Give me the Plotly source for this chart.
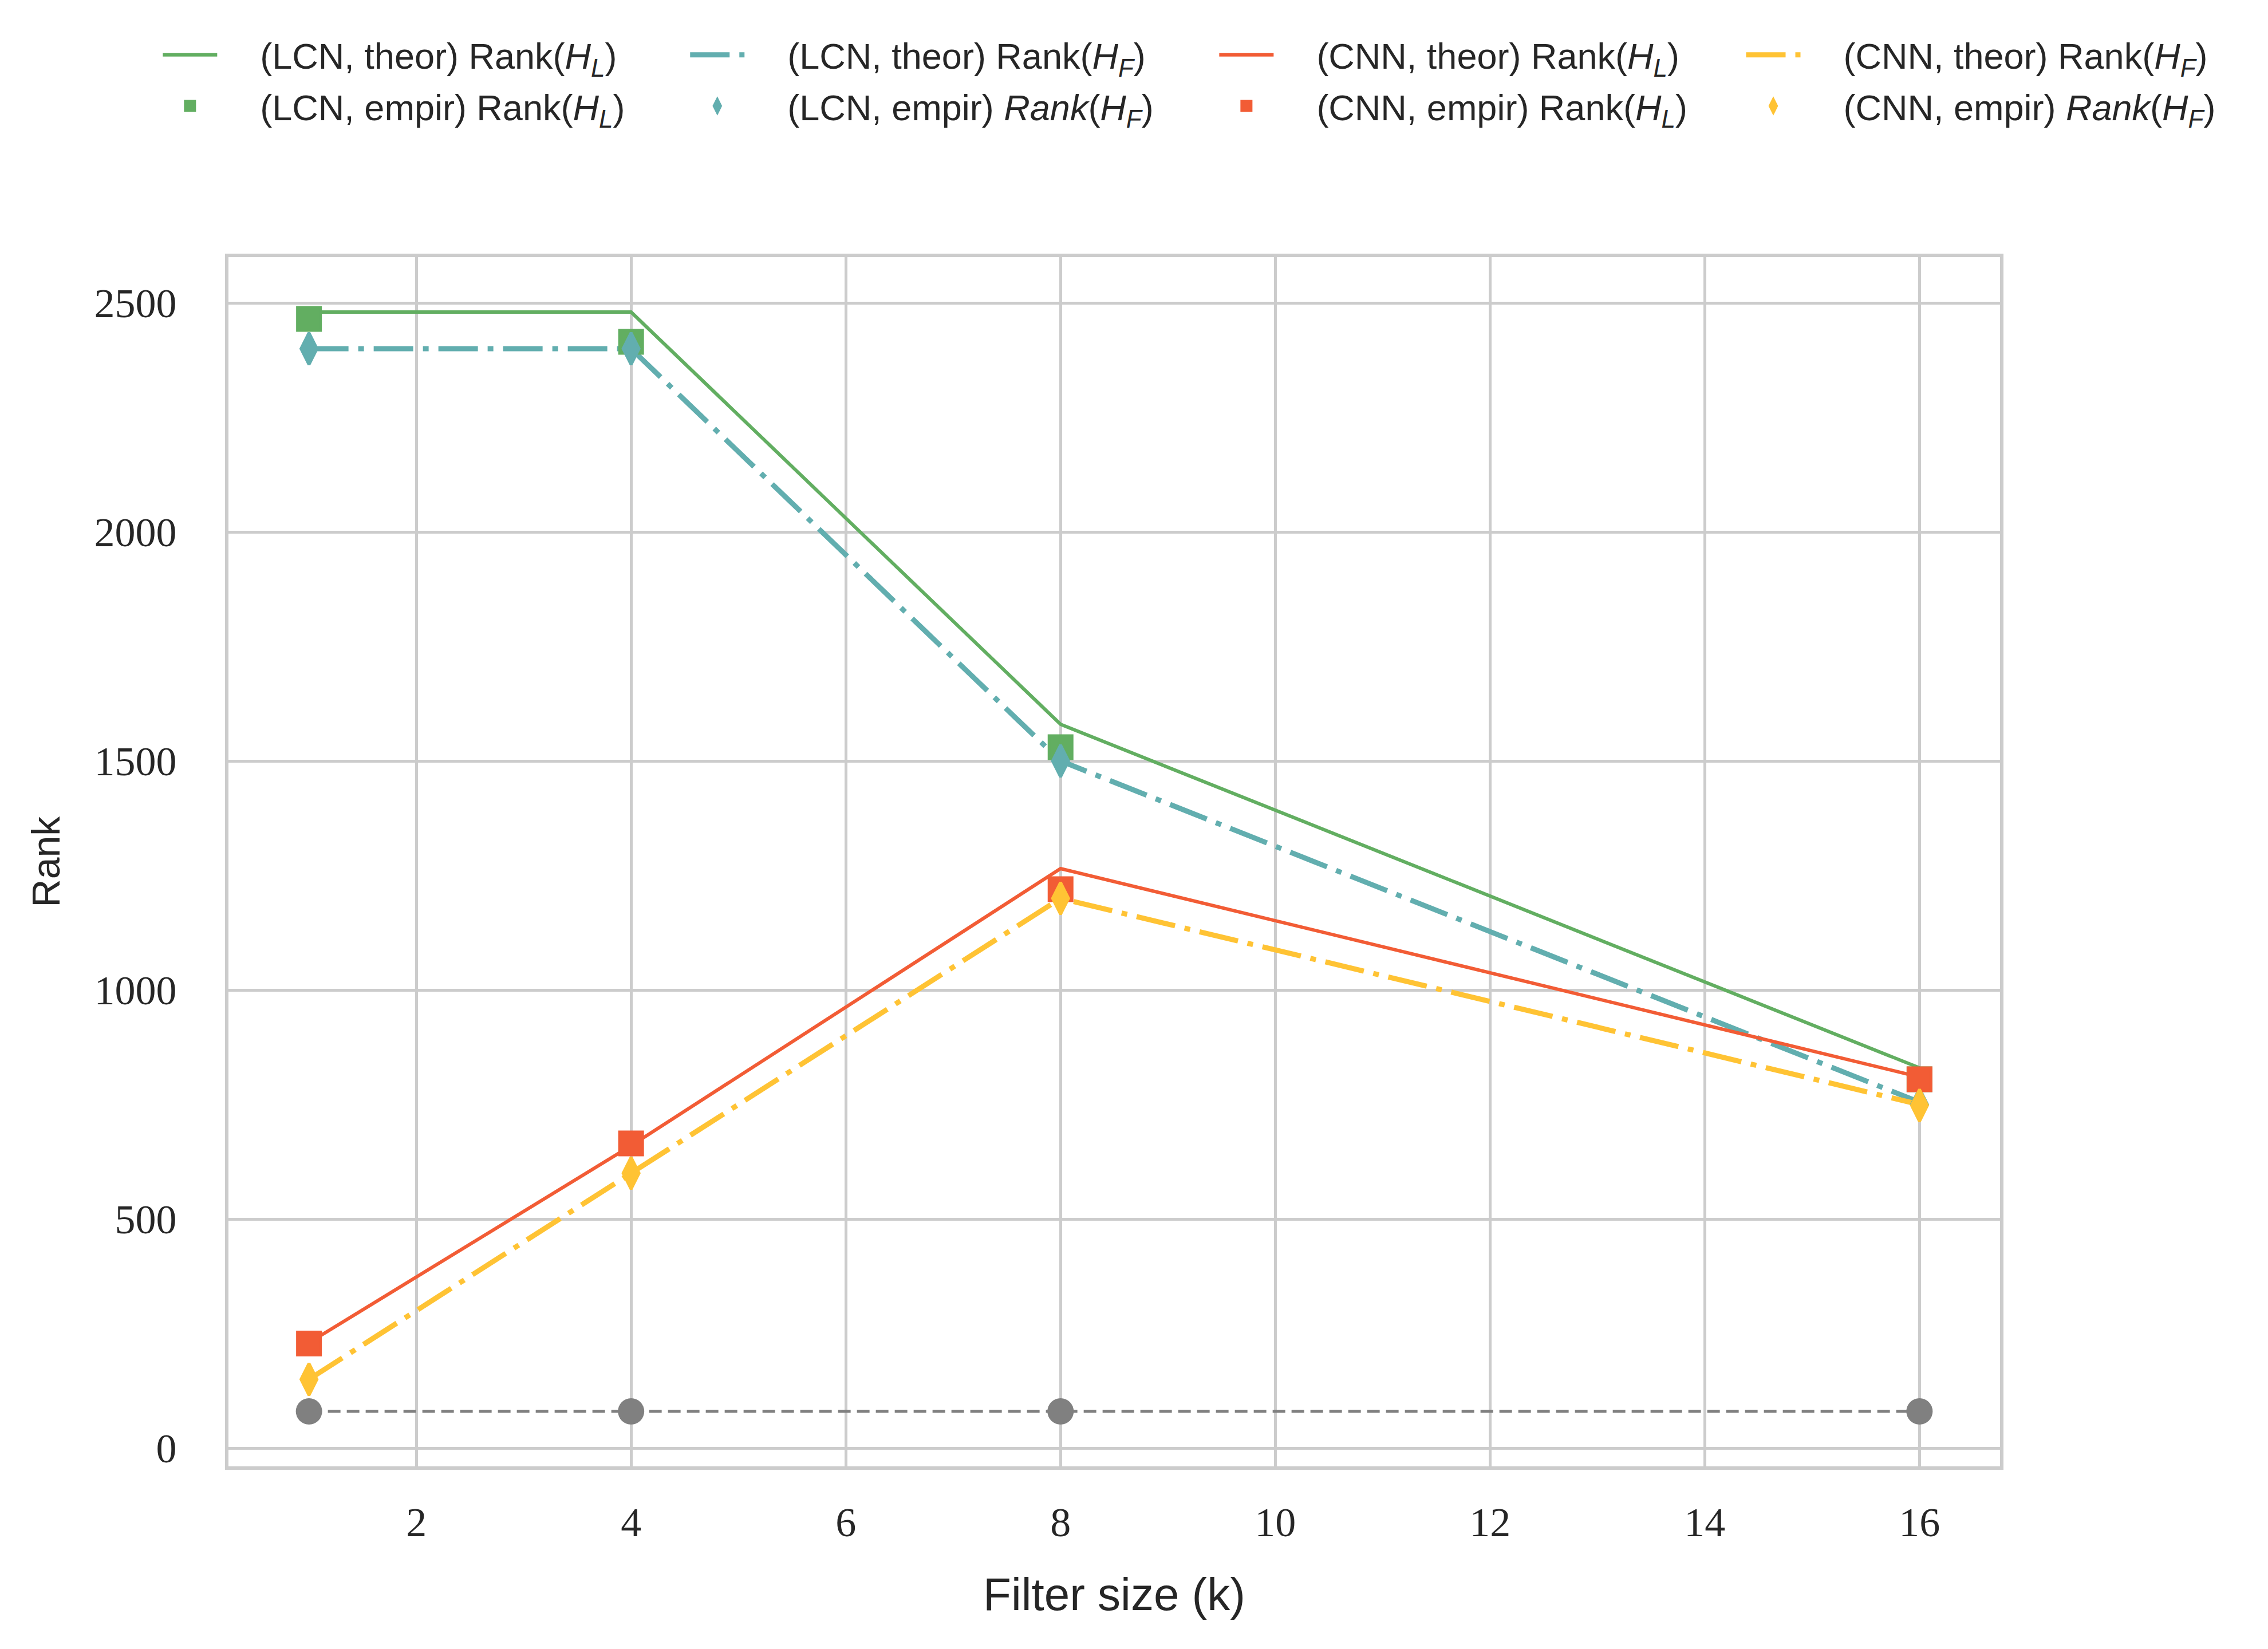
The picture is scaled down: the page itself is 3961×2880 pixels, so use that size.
import plotly.graph_objects as go

# --- data ---
FILTER_SIZES = [1, 4, 8, 16]

LCN_THEOR_HL = [2480, 2480, 1580, 830]
LCN_THEOR_HF = [2400, 2400, 1500, 755]
CNN_THEOR_HL = [230, 660, 1265, 810]
CNN_THEOR_HF = [150, 600, 1200, 750]

LCN_EMPIR_HL = [2465, 2415, 1530, 805]
LCN_EMPIR_HF = [2400, 2400, 1500, 750]
CNN_EMPIR_HL = [228, 665, 1220, 805]
CNN_EMPIR_HF = [150, 600, 1200, 748]

BASELINE = [80, 80, 80, 80]

X_TICKS = [2, 4, 6, 8, 10, 12, 14, 16]
Y_TICKS = [0, 500, 1000, 1500, 2000, 2500]

# palette
GREEN = "#62ae61"
TEAL = "#62aeaf"
RED = "#f25c35"
YELLOW = "#ffc334"
GREY = "#808080"

SERIF = "Liberation Serif, DejaVu Serif, serif"
SANS = "Liberation Sans, DejaVu Sans, sans-serif"
TXT = "#262626"

DASHDOT = "69px,17px,10px,17px"
PAD = "&nbsp;" * 4  # extra gap between legend symbol and text

# legend grid: 4 columns x 2 rows, one single-entry legend per cell
LEGEND_COLS = [0.0685, 0.301, 0.5343, 0.7666]
LEGEND_ROWS = [0.9695, 0.9385]


def hl(prefix, italic_rank=False):
    rank = "<i>Rank</i>" if italic_rank else "Rank"
    return f"{PAD}{prefix} {rank}(<i>H</i><sub><i>L</i></sub>)"


def hf(prefix, italic_rank=False):
    rank = "<i>Rank</i>" if italic_rank else "Rank"
    return f"{PAD}{prefix} {rank}(<i>H</i><sub><i>F</i></sub>)"


def marker(symbol, color, size=40):
    # outline in the same colour so the (size-capped) legend symbols get a bit bigger
    return dict(symbol=symbol, size=size, color=color, line=dict(color=color, width=5))


fig = go.Figure()

# grey baseline (not in legend)
fig.add_trace(go.Scatter(
    x=FILTER_SIZES, y=BASELINE, mode="lines+markers", showlegend=False,
    line=dict(color=GREY, width=5, dash="22px,11px"),
    marker=dict(symbol="circle", size=46, color=GREY),
))

# theoretical curves (legend row 1)
fig.add_trace(go.Scatter(
    x=FILTER_SIZES, y=LCN_THEOR_HL, mode="lines", name=hl("(LCN, theor)"),
    line=dict(color=GREEN, width=6), legend="legend",
))
fig.add_trace(go.Scatter(
    x=FILTER_SIZES, y=LCN_THEOR_HF, mode="lines", name=hf("(LCN, theor)"),
    line=dict(color=TEAL, width=9, dash=DASHDOT), legend="legend2",
))
fig.add_trace(go.Scatter(
    x=FILTER_SIZES, y=CNN_THEOR_HL, mode="lines", name=hl("(CNN, theor)"),
    line=dict(color=RED, width=6), legend="legend3",
))
fig.add_trace(go.Scatter(
    x=FILTER_SIZES, y=CNN_THEOR_HF, mode="lines", name=hf("(CNN, theor)"),
    line=dict(color=YELLOW, width=9, dash=DASHDOT), legend="legend4",
))

# empirical points (legend row 2)
fig.add_trace(go.Scatter(
    x=FILTER_SIZES, y=LCN_EMPIR_HL, mode="markers", name=hl("(LCN, empir)"),
    marker=marker("square", GREEN), legend="legend5",
))
fig.add_trace(go.Scatter(
    x=FILTER_SIZES, y=LCN_EMPIR_HF, mode="markers", name=hf("(LCN, empir)", True),
    marker=marker("diamond-tall", TEAL), legend="legend6",
))
fig.add_trace(go.Scatter(
    x=FILTER_SIZES, y=CNN_EMPIR_HL, mode="markers", name=hl("(CNN, empir)"),
    marker=marker("square", RED), legend="legend7",
))
fig.add_trace(go.Scatter(
    x=FILTER_SIZES, y=CNN_EMPIR_HF, mode="markers", name=hf("(CNN, empir)", True),
    marker=marker("diamond-tall", YELLOW), legend="legend8",
))

axis_common = dict(
    showgrid=True, gridcolor="#cccccc", gridwidth=5,
    showline=True, linecolor="#cccccc", linewidth=6, mirror=True,
    zeroline=False, ticks="",
    tickfont=dict(family=SERIF, size=72, color=TXT),
)

fig.update_layout(
    width=3961, height=2880,
    paper_bgcolor="white", plot_bgcolor="white",
    margin=dict(l=391, r=476, t=441, b=327),
    xaxis=dict(
        range=[0.25, 16.75], tickvals=X_TICKS, ticklabelstandoff=30,
        title=dict(text="Filter size (k)", font=dict(family=SANS, size=80, color=TXT),
                   standoff=60),
        **axis_common,
    ),
    yaxis=dict(
        range=[-40, 2600], tickvals=Y_TICKS, ticklabelstandoff=70,
        title=dict(text="Rank", font=dict(family=SANS, size=68, color=TXT),
                   standoff=40),
        **axis_common,
    ),
)

legend_names = ["legend"] + [f"legend{i}" for i in range(2, 9)]
for i, lg in enumerate(legend_names):
    fig.update_layout({lg: dict(
        orientation="h", xref="container", yref="container",
        x=LEGEND_COLS[i % 4], y=LEGEND_ROWS[i // 4],
        xanchor="left", yanchor="middle",
        itemwidth=95,
        font=dict(family=SANS, size=63, color=TXT),
        bgcolor="rgba(0,0,0,0)",
    )})

fig.write_html("out.html")
